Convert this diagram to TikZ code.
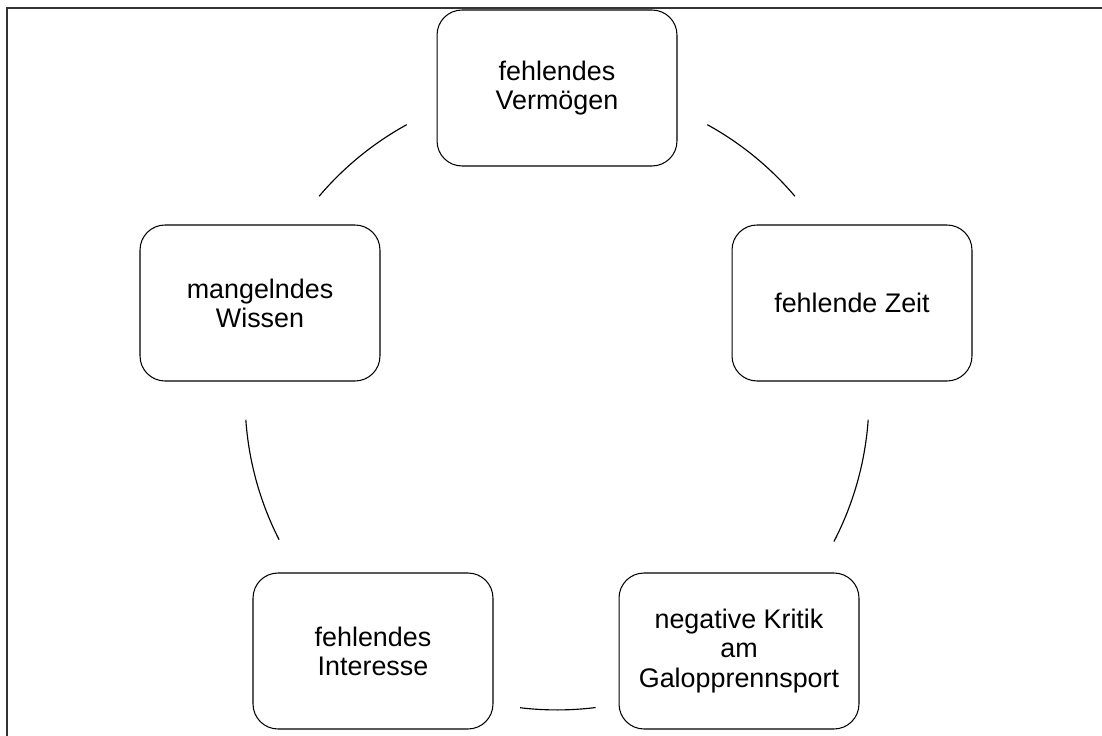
\documentclass[tikz,border=0pt]{standalone}
\usepackage{fontspec}
\setmainfont{Liberation Sans}
\usetikzlibrary{shapes}
\usetikzlibrary{positioning}
\usetikzlibrary{calc}
\tikzset{
	every node/.append style={align=center},
	hurdle/.style={draw,
		    rectangle,
		    rounded corners=0.5cm,
		    line width=0.6pt,
		    minimum height=3.12cm,
		    minimum width=4.8cm,
		    font=\fontsize{15.3}{16.6}\selectfont},
	ring/.style={line width=0.65pt}
}

\begin{document}
\begin{tikzpicture}[x=0.02cm, y=-0.02cm]

	\useasboundingbox (0,0) rectangle (1102,736);
	\draw [line width=0.85pt, black!80] (7,8) rectangle (1115,750);

	\coordinate (ctr) at (557,398);

	\node [hurdle] (vermoegen) at (557,88) {fehlendes\\Vermögen};
	\node [hurdle] (zeit) at (852,303) {fehlende Zeit};
	\node [hurdle] (kritik) at (739,651) {negative Kritik\\am\\Galopprennsport};
	\node [hurdle] (interesse) at (373,651) {fehlendes\\Interesse};
	\node [hurdle] (wissen) at (260,303) {mangelndes\\Wissen};

	\draw [ring] (ctr) ++(40.3:6.24cm) arc [start angle=40.3, end angle=61.2, radius=6.24cm];
	\draw [ring] (ctr) ++(-27.4:6.24cm) arc [start angle=-27.4, end angle=-4, radius=6.24cm];
	\draw [ring] (ctr) ++(263.2:6.24cm) arc [start angle=263.2, end angle=277.1, radius=6.24cm];
	\draw [ring] (ctr) ++(184:6.24cm) arc [start angle=184, end angle=207, radius=6.24cm];
	\draw [ring] (ctr) ++(118.8:6.24cm) arc [start angle=118.8, end angle=139.7, radius=6.24cm];

\end{tikzpicture}
\end{document}
